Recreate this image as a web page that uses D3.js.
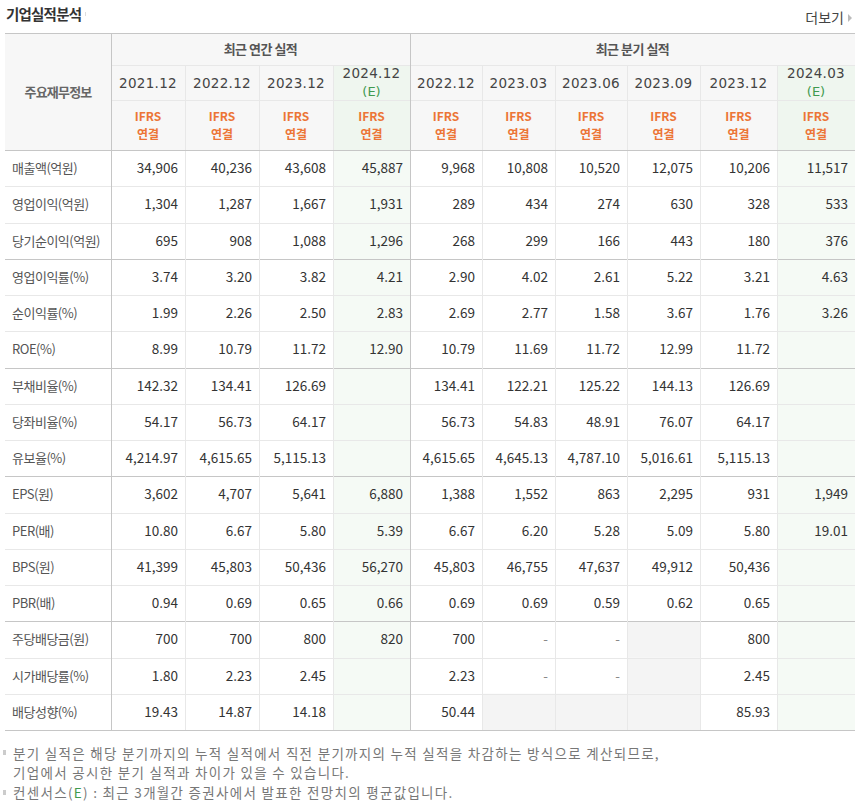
<!DOCTYPE html>
<html>
<head>
<meta charset="utf-8">
<script src="https://cdn.jsdelivr.net/npm/d3@7"></script>
<style>
  body { margin: 0; background: #fff; }
  svg { display: block; font-family: "Noto Sans CJK KR", "Noto Sans", sans-serif; }
</style>
</head>
<body>
<svg id="chart"></svg>
<script>
// ---- data ----
const title = "기업실적분석";
const moreLabel = "더보기";
const groupAnnual = "최근 연간 실적";
const groupQuarter = "최근 분기 실적";
const cornerLabel = "주요재무정보";
const periods = ["2021.12", "2022.12", "2023.12", "2024.12",
                 "2022.12", "2023.03", "2023.06", "2023.09", "2023.12", "2024.03"];
const estimateCols = [3, 9];
const basisTop = "IFRS";
const basisBottom = "연결";
const rowLabels = ["매출액(억원)", "영업이익(억원)", "당기순이익(억원)", "영업이익률(%)", "순이익률(%)",
  "ROE(%)", "부채비율(%)", "당좌비율(%)", "유보율(%)", "EPS(원)", "PER(배)", "BPS(원)",
  "PBR(배)", "주당배당금(원)", "시가배당률(%)", "배당성향(%)"];
const rowValues = [
  ["34,906", "40,236", "43,608", "45,887", "9,968", "10,808", "10,520", "12,075", "10,206", "11,517"],
  ["1,304", "1,287", "1,667", "1,931", "289", "434", "274", "630", "328", "533"],
  ["695", "908", "1,088", "1,296", "268", "299", "166", "443", "180", "376"],
  ["3.74", "3.20", "3.82", "4.21", "2.90", "4.02", "2.61", "5.22", "3.21", "4.63"],
  ["1.99", "2.26", "2.50", "2.83", "2.69", "2.77", "1.58", "3.67", "1.76", "3.26"],
  ["8.99", "10.79", "11.72", "12.90", "10.79", "11.69", "11.72", "12.99", "11.72", ""],
  ["142.32", "134.41", "126.69", "", "134.41", "122.21", "125.22", "144.13", "126.69", ""],
  ["54.17", "56.73", "64.17", "", "56.73", "54.83", "48.91", "76.07", "64.17", ""],
  ["4,214.97", "4,615.65", "5,115.13", "", "4,615.65", "4,645.13", "4,787.10", "5,016.61", "5,115.13", ""],
  ["3,602", "4,707", "5,641", "6,880", "1,388", "1,552", "863", "2,295", "931", "1,949"],
  ["10.80", "6.67", "5.80", "5.39", "6.67", "6.20", "5.28", "5.09", "5.80", "19.01"],
  ["41,399", "45,803", "50,436", "56,270", "45,803", "46,755", "47,637", "49,912", "50,436", ""],
  ["0.94", "0.69", "0.65", "0.66", "0.69", "0.69", "0.59", "0.62", "0.65", ""],
  ["700", "700", "800", "820", "700", "-", "-", "", "800", ""],
  ["1.80", "2.23", "2.45", "", "2.23", "-", "-", "", "2.45", ""],
  ["19.43", "14.87", "14.18", "", "50.44", "", "", "", "85.93", ""]
];
// cells with no data (shaded gray): [row, col]
const naCells = [[13, 7], [14, 7], [15, 5], [15, 6], [15, 7]];
const groupBreaks = [3, 6, 9, 13];
const footnotes = [
  "분기 실적은 해당 분기까지의 누적 실적에서 직전 분기까지의 누적 실적을 차감하는 방식으로 계산되므로,",
  "기업에서 공시한 분기 실적과 차이가 있을 수 있습니다."
];
const consensusNote = ["컨센서스(", "E", ") : 최근 3개월간 증권사에서 발표한 전망치의 평균값입니다."];

// ---- layout ----
const width = 862, height = 804;
const left = 5, right = 855, labelRight = 111;
const colEdges = [111, 185, 259, 333, 410, 482, 555, 627, 700, 777, 855];
const headTop = 33, headMid = 65, headYear = 100, headBottom = 150, tableBottom = 730;

const svg = d3.select("#chart").attr("width", width).attr("height", height);

const x0 = d3.scaleOrdinal().domain(d3.range(periods.length)).range(colEdges.slice(0, -1));
const x1 = d3.scaleOrdinal().domain(d3.range(periods.length)).range(colEdges.slice(1));
const y = d3.scaleLinear().domain([0, rowLabels.length]).range([headBottom, tableBottom]);

const lineLight = "#e8e8e8", lineDark = "#c6c6c6";
const headBg = "#f7f7f7", estHeadBg = "#eff6ef", estBg = "#f5faf5", naBg = "#f4f4f4";

// title
svg.append("text").attr("x", 6).attr("y", 20)
  .attr("font-size", 14.5).attr("font-weight", "bold").attr("fill", "#333")
  .attr("letter-spacing", -0.8).text(title);
svg.append("rect").attr("x", 85).attr("y", 12).attr("width", 1).attr("height", 4).attr("fill", "#ddd");
svg.append("text").attr("x", 844).attr("y", 23).attr("text-anchor", "end")
  .attr("font-size", 14).attr("fill", "#444").text(moreLabel);
svg.append("path").attr("d", "M848,14 L852,18 L848,22 Z").attr("fill", "#bbb");

// header backgrounds
svg.append("rect").attr("x", left).attr("y", headTop).attr("width", right - left)
  .attr("height", headBottom - headTop).attr("fill", headBg);
estimateCols.forEach(c => {
  svg.append("rect").attr("x", x0(c)).attr("y", headMid).attr("width", x1(c) - x0(c))
    .attr("height", headBottom - headMid).attr("fill", estHeadBg);
  svg.append("rect").attr("x", x0(c)).attr("y", headBottom).attr("width", x1(c) - x0(c))
    .attr("height", tableBottom - headBottom).attr("fill", estBg);
});
naCells.forEach(([r, c]) => {
  svg.append("rect").attr("x", x0(c)).attr("y", y(r)).attr("width", x1(c) - x0(c))
    .attr("height", y(r + 1) - y(r)).attr("fill", naBg);
});

// grid lines
const grid = svg.append("g").attr("shape-rendering", "crispEdges");
grid.append("line").attr("x1", labelRight).attr("x2", right).attr("y1", headMid + 0.5).attr("y2", headMid + 0.5).attr("stroke", lineLight);
grid.append("line").attr("x1", labelRight).attr("x2", right).attr("y1", headYear + 0.5).attr("y2", headYear + 0.5).attr("stroke", lineLight);
d3.range(1, rowLabels.length).forEach(r => {
  const dark = groupBreaks.includes(r);
  grid.append("line").attr("x1", left).attr("x2", right)
    .attr("y1", Math.round(y(r)) + 0.5).attr("y2", Math.round(y(r)) + 0.5)
    .attr("stroke", dark ? lineDark : lineLight);
});
colEdges.slice(1, -1).forEach(cx => {
  const dark = cx === colEdges[4];
  grid.append("line").attr("x1", cx + 0.5).attr("x2", cx + 0.5)
    .attr("y1", dark ? headTop : headMid).attr("y2", tableBottom)
    .attr("stroke", dark ? lineDark : lineLight);
});
grid.append("line").attr("x1", labelRight + 0.5).attr("x2", labelRight + 0.5)
  .attr("y1", headTop).attr("y2", tableBottom).attr("stroke", lineDark);
[headTop, headBottom, tableBottom].forEach(yy => {
  grid.append("line").attr("x1", left).attr("x2", right).attr("y1", yy + 0.5).attr("y2", yy + 0.5).attr("stroke", lineDark);
});

// header texts
const hdr = svg.append("g").attr("text-anchor", "middle");
hdr.append("text").attr("x", (labelRight + colEdges[4]) / 2).attr("y", 54)
  .attr("font-size", 13).attr("font-weight", "bold").attr("fill", "#555").attr("letter-spacing", -0.5).text(groupAnnual);
hdr.append("text").attr("x", (colEdges[4] + right) / 2).attr("y", 54)
  .attr("font-size", 13).attr("font-weight", "bold").attr("fill", "#555").attr("letter-spacing", -0.5).text(groupQuarter);
hdr.append("text").attr("x", (left + labelRight) / 2).attr("y", 97)
  .attr("font-size", 13).attr("font-weight", "bold").attr("fill", "#666").attr("letter-spacing", -0.8).text(cornerLabel);

periods.forEach((p, i) => {
  const cx = (x0(i) + x1(i)) / 2;
  const est = estimateCols.includes(i);
  hdr.append("text").attr("x", cx).attr("y", est ? 78 : 88)
    .attr("font-family", "DejaVu Sans").attr("font-size", 13.5).attr("fill", "#444")
    .attr("letter-spacing", 0.3).text(p);
  if (est) {
    hdr.append("text").attr("x", cx).attr("y", 96)
      .attr("font-family", "DejaVu Sans").attr("font-size", 13).attr("fill", "#3f9a4f").text("(E)");
  }
  hdr.append("text").attr("x", cx).attr("y", 121)
    .attr("font-size", 12).attr("font-weight", "bold").attr("fill", "#ec7536").text(basisTop);
  hdr.append("text").attr("x", cx).attr("y", 139)
    .attr("font-size", 12).attr("font-weight", "bold").attr("fill", "#ec7536").text(basisBottom);
});

// rows
const rows = svg.selectAll(".row").data(rowLabels).enter().append("g").attr("class", "row");
rows.append("text").attr("x", 12).attr("y", (d, i) => (y(i) + y(i + 1)) / 2 + 5)
  .attr("font-size", 13).attr("fill", "#555").attr("letter-spacing", -0.5).text(d => d);
rowValues.forEach((vals, r) => {
  svg.append("g").selectAll("text").data(vals).enter().append("text")
    .attr("x", (d, c) => x1(c) - 7)
    .attr("y", (y(r) + y(r + 1)) / 2 + 5)
    .attr("text-anchor", "end").attr("font-size", 13.5)
    .attr("fill", d => d === "-" ? "#888" : "#333")
    .text(d => d);
});

// footnotes
const foot = svg.append("g").attr("font-size", 13.5).attr("fill", "#777").attr("letter-spacing", 1.3);
foot.append("rect").attr("x", 3).attr("y", 750).attr("width", 3).attr("height", 5).attr("fill", "#ccc");
foot.append("text").attr("x", 13).attr("y", 759).text(footnotes[0]);
foot.append("text").attr("x", 13).attr("y", 778).text(footnotes[1]);
foot.append("rect").attr("x", 3).attr("y", 790).attr("width", 3).attr("height", 5).attr("fill", "#ccc");
const ct = foot.append("text").attr("x", 13).attr("y", 798);
ct.append("tspan").text(consensusNote[0]);
ct.append("tspan").attr("fill", "#3f9a4f").text(consensusNote[1]);
ct.append("tspan").text(consensusNote[2]);
</script>
</body>
</html>
